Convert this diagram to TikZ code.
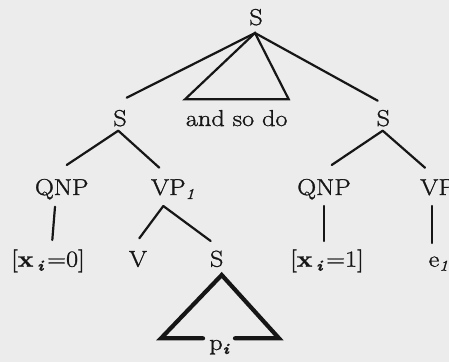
\documentclass[tikz,border=0pt]{standalone}
\usepackage{fontspec}
\setmainfont{Latin Modern Roman}[FakeStretch=1.14, FakeBold=1.3]
\usetikzlibrary{calc}
\definecolor{bg}{RGB}{236,236,236}
\definecolor{ink}{RGB}{22,22,22}
\newcommand{\lsub}[1]{\rlap{\raisebox{-0.4ex}{\fontsize{15}{17}\selectfont #1}}}
\newcommand{\isub}[1]{\raisebox{-0.4ex}{\fontsize{15}{17}\selectfont #1}}
\tikzset{
  lab/.style={inner sep=0pt, anchor=base, text=ink, font=\fontsize{23}{27}\selectfont},
  edge/.style={draw=ink, line width=2.2pt, line cap=round},
  boldedge/.style={draw=ink, line width=4.2pt, line cap=round, line join=miter}
}
\begin{document}
\begin{tikzpicture}[x=1pt, y=-1pt]
\useasboundingbox (0,0) rectangle (449,362);
\fill[bg] (0,0) rectangle (449,362);
% labels
\node[lab] (top) at (256,25) {S};
\node[lab] (sL) at (120,126) {S};
\node[lab] (ando) at (236.7,126) {and so do};
\node[lab] (sR) at (383.3,126) {S};
\node[lab] (qL) at (61.7,195) {QNP};
\node[lab] (vp1) at (168.3,195) {VP\lsub{\itshape 1}};
\node[lab] (qR) at (324,195) {QNP};
\node[lab, anchor=base west] (vpR) at (420,195) {VP};
\node[lab] (xL) at (48,266.7) {[\textbf{x}\,\isub{\bfseries\itshape i}\,=0]};
\node[lab] (v) at (138,266.7) {V};
\node[lab] (sLow) at (216.7,266.7) {S};
\node[lab] (xR) at (327,266.7) {[\textbf{x}\,\isub{\bfseries\itshape i}\,=1]};
\node[lab] (e1) at (434,266.7) {e\lsub{\itshape 1}};
\node[lab] (pi) at (216,350) {p\lsub{\bfseries\itshape i}};
% top level
\draw[edge] ($(top.base)+(-1,8)$) -- ($(sL.base)+(6.7,-28.3)$);
\draw[edge, line join=miter] ($(top.base)+(-1,8)$) -- ($(ando.base)+(-51.7,-26.7)$) -- ($(ando.base)+(52,-26.7)$) -- cycle;
\draw[edge] ($(top.base)+(-1,8)$) -- ($(sR.base)+(-5.6,-25.3)$);
% left S
\draw[edge] ($(sL.base)+(-1.7,4.7)$) -- ($(qL.base)+(5,-30)$);
\draw[edge] ($(sL.base)+(-1.7,4.7)$) -- ($(vp1.base)+(-9,-27.3)$);
% right S
\draw[edge] ($(sR.base)+(-0.6,4.7)$) -- ($(qR.base)+(7.7,-30)$);
\draw[edge] ($(sR.base)+(-0.6,4.7)$) -- ($(vpR.base west)+(5,-27.3)$);
% third level
\draw[edge] ($(qL.base)+(-6.7,11.7)$) -- ($(xL.base)+(4.3,-26.7)$);
\draw[edge] ($(vp1.base)+(-5,11)$) -- ($(v.base)+(1.3,-28.4)$);
\draw[edge] ($(vp1.base)+(-5,11)$) -- ($(sLow.base)+(-6,-25.7)$);
\draw[edge] ($(qR.base)+(0,11)$) -- ($(xR.base)+(-3,-25.7)$);
\draw[edge] ($(vpR.base west)+(12.3,11)$) -- ($(e1.base)+(-1.7,-23.7)$);
% bold triangle
\draw[boldedge] ($(pi.base)+(-13,-11.7)$) -- ($(pi.base)+(-55,-11.7)$) -- ($(sLow.base)+(5,8.3)$) -- ($(pi.base)+(63,-11.7)$) -- ($(pi.base)+(19,-11.7)$);
\end{tikzpicture}
\end{document}
